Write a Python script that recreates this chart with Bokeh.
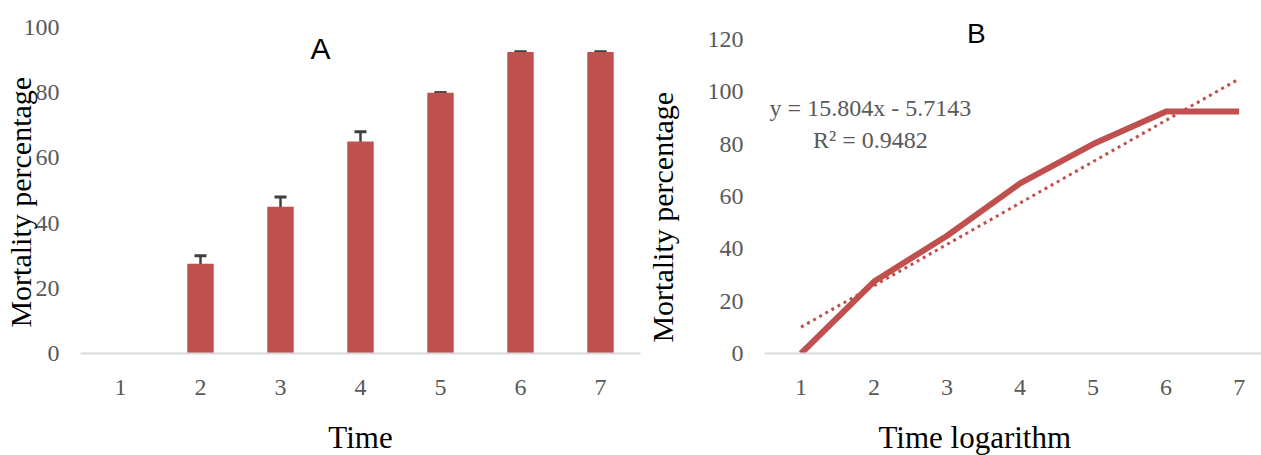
import numpy as np
from bokeh.plotting import figure
from bokeh.layouts import row
from bokeh.models import Range1d, FixedTicker, Label, Whisker, TeeHead, ColumnDataSource
from bokeh.embed import file_html
from bokeh.resources import INLINE

# ---- data ----
time = [1, 2, 3, 4, 5, 6, 7]
mortality = [0, 27.5, 45, 65, 80, 92.5, 92.5]
error = [0, 2.5, 3, 3, 0, 0, 0]
log_time = [1, 2, 3, 4, 5, 6, 7]
y_ticks_a = [0, 20, 40, 60, 80, 100]
y_ticks_b = [0, 20, 40, 60, 80, 100, 120]

RED = "#C0504D"
GRAY_TXT = "#595959"
SERIF = "Liberation Serif"
SANS = "Liberation Sans"
NB = "\u00a0"  # padding keeps the axis titles off-centre like the original


def style(p, yticks, ylab_standoff, xlab_standoff):
    p.outline_line_color = None
    p.grid.grid_line_color = None
    p.xaxis.ticker = FixedTicker(ticks=time)
    p.yaxis.ticker = FixedTicker(ticks=yticks)
    for ax in (p.xaxis[0], p.yaxis[0]):
        ax.major_tick_line_color = None
        ax.minor_tick_line_color = None
        ax.major_tick_out = 0
        ax.major_tick_in = 0
        ax.major_label_text_font = SERIF
        ax.major_label_text_font_size = "24px"
        ax.major_label_text_color = GRAY_TXT
        ax.axis_label_text_font = SERIF
        ax.axis_label_text_font_style = "normal"
        ax.axis_label_text_color = "black"
    p.yaxis.axis_line_color = None
    p.xaxis.axis_line_color = "#D9D9D9"
    p.xaxis.axis_line_width = 2
    p.xaxis.major_label_standoff = 26
    p.yaxis.major_label_standoff = 21
    p.yaxis.axis_label_text_font_size = "30px"
    p.xaxis.axis_label_text_font_size = "31px"
    p.yaxis.axis_label_standoff = ylab_standoff
    p.xaxis.axis_label_standoff = xlab_standoff


FRAME_H = 340
TOP = 13
BOTTOM = 102

# ---- Panel A ----
pA = figure(title=None, frame_width=560, frame_height=FRAME_H, output_backend="svg", toolbar_location=None,
            x_range=Range1d(0.5, 7.5), y_range=Range1d(0, 104.3),
            min_border_left=80, min_border_right=2, min_border_top=TOP, min_border_bottom=BOTTOM,
            x_axis_label="Time", y_axis_label="Mortality percentage" + NB * 5)
style(pA, y_ticks_a, -16, 22)
pA.vbar(x=time, top=mortality, width=0.33, fill_color=RED, line_color=None)

idx = [i for i, v in enumerate(mortality) if v > 0]
src = ColumnDataSource(dict(
    x=[time[i] for i in idx],
    lo=[mortality[i] - error[i] for i in idx],
    hi=[mortality[i] + error[i] for i in idx],
))
wh = Whisker(source=src, base="x", lower="lo", upper="hi",
             line_color="#404040", line_width=2.5,
             upper_head=TeeHead(size=12, line_color="#404040", line_width=3),
             lower_head=TeeHead(size=12, line_color="#404040", line_width=3))
pA.add_layout(wh)

pA.add_layout(Label(x=3.5, y=93.6, text="A", text_align="center", text_baseline="middle",
                    text_font=SANS, text_font_size="30px", text_color="black"))

# ---- Panel B ----
pB = figure(title=None, frame_width=498, frame_height=FRAME_H, output_backend="svg", toolbar_location=None,
            x_range=Range1d(0.5, 7.32), y_range=Range1d(0, 129.9),
            min_border_left=121, min_border_right=0, min_border_top=TOP, min_border_bottom=BOTTOM,
            x_axis_label="Time logarithm" + NB * 10, y_axis_label="Mortality percentage" + NB * 9)
style(pB, y_ticks_b, 26, 22)

slope, intercept = np.polyfit(log_time, mortality, 1)
tx = [log_time[0], log_time[-1]]
ty = [slope * v + intercept for v in tx]
pB.line(tx, ty, line_color=RED, line_width=3, line_dash="3 4")
pB.line(log_time, mortality, line_color=RED, line_width=6, line_join="round")

pB.add_layout(Label(x=3.40, y=122.3, text="B", text_align="center", text_baseline="middle",
                    text_font=SANS, text_font_size="28px", text_color="black"))
pB.add_layout(Label(x=1.95, y=93.7, text=f"y = {slope:.3f}x - {abs(intercept):.4f}",
                    text_align="center", text_baseline="middle",
                    text_font=SERIF, text_font_size="24px", text_color=GRAY_TXT))
r2 = 1 - np.sum((np.array(mortality) - (slope * np.array(log_time) + intercept)) ** 2) / \
    np.sum((np.array(mortality) - np.mean(mortality)) ** 2)
pB.add_layout(Label(x=1.95, y=81.4, text=f"R\u00b2 = {r2:.4f}",
                    text_align="center", text_baseline="middle",
                    text_font=SERIF, text_font_size="24px", text_color=GRAY_TXT))

layout = row(pA, pB)
open("out.html", "w").write(file_html(layout, INLINE))
